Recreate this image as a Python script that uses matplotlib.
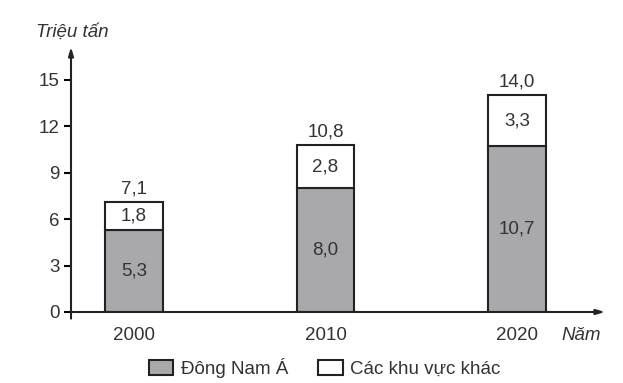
import matplotlib.pyplot as plt
from matplotlib.patches import Patch

plt.rcParams['font.family'] = ['Liberation Sans', 'DejaVu Sans']

# du lieu
nam = ["2000", "2010", "2020"]
dong_nam_a = [5.3, 8.0, 10.7]
khu_vuc_khac = [1.8, 2.8, 3.3]
tong = [7.1, 10.8, 14.0]
yticks = [0, 3, 6, 9, 12, 15]

W, H = 623, 383
fs = 13.5
fig = plt.figure(figsize=(W / 100, H / 100), dpi=100)
# truc: goc tai (71, 312) px, dinh mui ten y ~47 px, mui ten x ~605 px
ax = fig.add_axes([71 / W, (H - 312) / H, (605 - 71) / W, (312 - 47) / H])

xs = range(len(nam))
gray = "#a9a9ab"
w = 0.30
ax.bar(xs, dong_nam_a, width=w, color=gray, edgecolor="#222222", linewidth=1.5, zorder=2)
ax.bar(xs, khu_vuc_khac, width=w, bottom=dong_nam_a, color="white",
       edgecolor="#222222", linewidth=1.5, zorder=2)

for i in xs:
    ax.text(i, dong_nam_a[i] / 2, f"{dong_nam_a[i]:.1f}".replace(".", ","),
            ha="center", va="center", fontsize=fs, color="#333333")
    ax.text(i, dong_nam_a[i] + khu_vuc_khac[i] / 2, f"{khu_vuc_khac[i]:.1f}".replace(".", ","),
            ha="center", va="center", fontsize=fs, color="#333333")
    ax.text(i, tong[i] + 0.3, f"{tong[i]:.1f}".replace(".", ","),
            ha="center", va="bottom", fontsize=fs, color="#333333")

ax.set_xlim(-0.328, 2.458)
ax.set_ylim(0, 17.13)
ax.set_yticks(yticks)
ax.set_yticklabels([str(v) for v in yticks], fontsize=fs, color="#333333")
ax.set_xticks(list(xs))
ax.set_xticklabels(nam, fontsize=fs, color="#333333")
ax.tick_params(axis="y", direction="out", length=5, width=1.5, pad=3)
ax.tick_params(axis="x", length=0, pad=11)
for s in ax.spines.values():
    s.set_visible(False)

# truc co mui ten
ax.annotate("", xy=(0, 1.0), xytext=(0, -0.025), xycoords="axes fraction",
            arrowprops=dict(arrowstyle="-|>,head_length=0.5,head_width=0.15",
                            color="#222222", lw=1.5, shrinkA=0, shrinkB=0))
ax.annotate("", xy=(1.0, 0), xytext=(0, 0), xycoords="axes fraction",
            arrowprops=dict(arrowstyle="-|>,head_length=0.5,head_width=0.15",
                            color="#222222", lw=1.5, shrinkA=0, shrinkB=0))

fig.text(72 / W, 1 - 32 / H, "Triệu tấn", style="italic", fontsize=fs,
         ha="center", va="center", color="#333333")
fig.text(581 / W, 1 - 335 / H, "Năm", style="italic", fontsize=fs,
         ha="center", va="center", color="#333333")

handles = [Patch(facecolor=gray, edgecolor="#222222", linewidth=1.5),
           Patch(facecolor="white", edgecolor="#222222", linewidth=1.5)]
fig.legend(handles, ["Đông Nam Á", "Các khu vực khác"], ncol=2, frameon=False,
           loc="center left", bbox_to_anchor=(132 / W, 1 - 368 / H), fontsize=fs,
           handlelength=1.3, handleheight=0.8, handletextpad=0.4, columnspacing=1.6,
           labelcolor="#333333")

fig.savefig("out.png", dpi=100)
